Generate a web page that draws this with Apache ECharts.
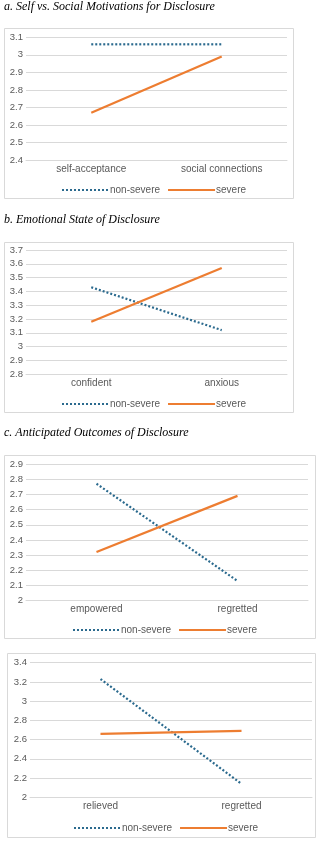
<!DOCTYPE html>
<html><head><meta charset="utf-8">
<script src="https://cdn.jsdelivr.net/npm/echarts@6/dist/echarts.min.js"></script>
<style>html,body{margin:0;padding:0;background:#fff}#c{width:324px;height:842px}</style>
</head><body><div id="c"></div>
<script>
const titles = ['a. Self vs. Social Motivations for Disclosure','b. Emotional State of Disclosure','c. Anticipated Outcomes of Disclosure',''];
const catsA = ['self-acceptance','social connections'];
const catsB = ['confident','anxious'];
const catsC = ['empowered','regretted'];
const catsD = ['relieved','regretted'];
const nonSevereA = [3.06, 3.06];
const severeA = [2.67, 2.99];
const nonSevereB = [3.43, 3.12];
const severeB = [3.18, 3.57];
const nonSevereC = [2.77, 2.13];
const severeC = [2.32, 2.69];
const nonSevereD = [3.23, 2.14];
const severeD = [2.66, 2.69];
const yMin = [2.4, 2.8, 2.0, 2.0];
const yMax = [3.1, 3.7, 2.9, 3.4];
const yStep = [0.1, 0.1, 0.1, 0.2];

const cats = [catsA, catsB, catsC, catsD];
const ns = [nonSevereA, nonSevereB, nonSevereC, nonSevereD];
const sv = [severeA, severeB, severeC, severeD];

const boxes = [
  {x:4, y:28, w:289, h:170},
  {x:4, y:242, w:289, h:170},
  {x:4, y:455, w:311, h:183},
  {x:7, y:653, w:308, h:184}
];
const grids = [
  {left:26, width:261, top:37.3, height:122.7},
  {left:26, width:261, top:250, height:124.3},
  {left:26, width:282, top:464, height:136.7},
  {left:30, width:282, top:662.7, height:134.6}
];
const titleY = [1, 214, 427, 0];
const legendY = [185, 399, 625, 823];

const blue = '#2B6A8E';
const orange = '#ED7D31';
const txt = '#595959';
const font = 'Liberation Sans';

const option = {
  animation:false,
  textStyle:{fontFamily:font},
  title: titles.map((t,i)=>({text:t, left:4, top:titleY[i], padding:0,
    textStyle:{fontFamily:'Liberation Serif', fontStyle:'italic', fontWeight:'normal', fontSize:12, color:'#000'}})),
  graphic: boxes.map(b=>({type:'rect', shape:{x:b.x+0.5,y:b.y+0.5,width:b.w,height:b.h},
    style:{fill:'none', stroke:'#d9d9d9', lineWidth:1}, silent:true})),
  grid: grids.map(g=>Object.assign({containLabel:false}, g)),
  legend: boxes.map((b,i)=>({
    left: Math.round(b.x + b.w/2 - 88), top: legendY[i], orient:'horizontal', padding:0,
    itemWidth:47, itemHeight:8, itemGap:7,
    itemStyle:{opacity:0},
    data:['non-severe','severe'].map(n=>({name:n+'__'+i})),
    formatter: n => n.split('__')[0],
    textStyle:{color:txt, fontSize:10, fontFamily:font, padding:[0,0,0,-4]},
    selectedMode:false
  })),
  xAxis: cats.map((c,i)=>({type:'category', gridIndex:i, data:c, boundaryGap:true,
    axisLine:{lineStyle:{color:'#d9d9d9'}}, axisTick:{show:false},
    axisLabel:{color:txt, fontSize:10, fontFamily:font, margin:4}})),
  yAxis: cats.map((c,i)=>({type:'value', gridIndex:i, min:yMin[i], max:yMax[i], interval:yStep[i],
    axisLine:{show:false}, axisTick:{show:false},
    splitLine:{lineStyle:{color:'#d9d9d9'}},
    axisLabel:{color:txt, fontSize:9.5, fontFamily:font, margin:3,
      formatter: v => String(Math.round(v*10)/10)}})),
  series: []
};
for (let i=0;i<4;i++){
  option.series.push({name:'non-severe__'+i, type:'line', xAxisIndex:i, yAxisIndex:i, data:ns[i],
    symbol:'none', lineStyle:{color:blue, width:2.2, type:[2,2]}, itemStyle:{color:blue}});
  option.series.push({name:'severe__'+i, type:'line', xAxisIndex:i, yAxisIndex:i, data:sv[i],
    symbol:'none', lineStyle:{color:orange, width:2.2}, itemStyle:{color:orange}});
}
const chart = echarts.init(document.getElementById('c'), null, {renderer:'canvas'});
chart.setOption(option);
</script></body></html>
